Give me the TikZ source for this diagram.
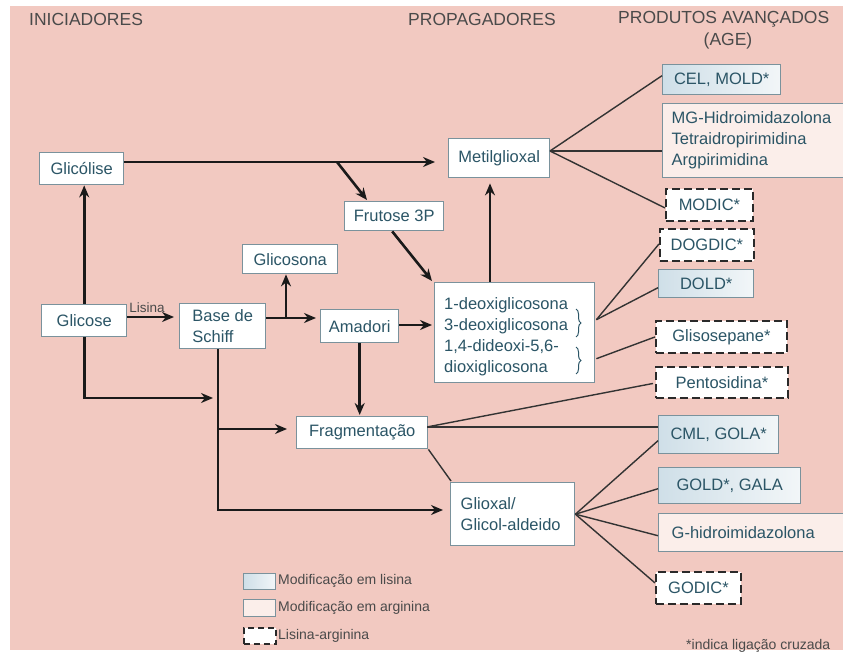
\documentclass[tikz,border=0pt]{standalone}
\usepackage{fontspec}
\setmainfont{Liberation Sans}
\usetikzlibrary{arrows.meta,calc,decorations.pathreplacing}
\definecolor{bgpink}{HTML}{F2C9C1}
\definecolor{txtc}{HTML}{2B5566}
\definecolor{hdrc}{HTML}{4A4A4A}
\definecolor{legc}{HTML}{4A4A4A}
\definecolor{bordc}{HTML}{7A929C}
\definecolor{lysA}{HTML}{CFDFE8}
\definecolor{lysB}{HTML}{F2F6F8}
\definecolor{argc}{HTML}{FBEEEA}
\definecolor{dashc}{HTML}{2A2A2A}
\definecolor{arrc}{HTML}{1A1A1A}
\definecolor{linec}{HTML}{333333}
\begin{document}
\begin{tikzpicture}[x=1pt,y=-1pt,
  box/.style={draw=bordc, line width=1.4pt, fill=white, text=txtc,
    font=\fontsize{16.5}{21}\selectfont, inner sep=0pt, anchor=north west},
  sz/.style 2 args={minimum width=#1pt, minimum height=#2pt},
  lys/.style={box, left color=lysA, right color=lysB, draw=bordc},
  arg/.style={box, fill=argc},
  dbox/.style={box, draw=dashc, dash pattern=on 8pt off 4pt, line width=1.9pt},
  txt/.style={text=txtc, font=\fontsize{16.5}{21}\selectfont, inner sep=0pt},
  arr/.style={line width=2.6pt, draw=arrc, line join=miter, -{Stealth[length=12pt,width=10pt]}},
  ln/.style={line width=1.4pt, draw=linec},
  hdr/.style={text=hdrc, font=\fontsize{17.5}{20}\selectfont, inner sep=0pt},
  leg/.style={text=legc, font=\fontsize{14}{16}\selectfont, inner sep=0pt, anchor=west},
]
\useasboundingbox (0,0) rectangle (843,652);
\fill[white] (0,0) rectangle (843,652);
\fill[bgpink] (10,6) rectangle (843,650);

% headers
\node[hdr, anchor=west] (h1) at (29,19) {INICIADORES};
\node[hdr, anchor=west] (h2) at (408,19) {PROPAGADORES};
\node[hdr, anchor=west] (h3) at (618,19) {PRODUTOS AVANÇADOS};
\node[hdr] (h4) at (728,41) {(AGE)};

% left / middle nodes
\node[box, sz={84}{32}] (glicolise) at (39,152) {Glicólise};
\node[box, sz={85}{32}] (glicose) at (41,304) {Glicose};
\node[box, sz={86}{45}, align=left] (schiff) at (179,303) {Base de\\Schiff};
\node[box, sz={95}{29}] (glicosona) at (242,244) {Glicosona};
\node[box, sz={78}{33}] (amadori) at (320,309) {Amadori};
\node[box, sz={99}{29}] (frutose) at (344,201) {Frutose 3P};
\node[box, sz={101}{39}] (metil) at (448,138) {Metilglioxal};
\node[box, sz={160}{100}] (deoxi) at (434,282) {};
\node[txt, anchor=north west, align=left] (deoxitxt) at (444,297)
  {1-deoxiglicosona\\3-deoxiglicosona\\1,4-dideoxi-5,6-\\dioxiglicosona};
\node[box, sz={131}{32}] (frag) at (296,416) {Fragmentação};
\node[box, sz={124}{63}, align=left, text width=104pt] (glioxal) at (450,482) {Glioxal/\\Glicol-aldeido};

% products
\node[lys, sz={118}{30}] (cel) at (662,64) {CEL, MOLD*};
\node[arg, sz={190}{74}, align=left, text width=172pt] (mg) at (662,103)
  {MG-Hidroimidazolona\\Tetraidropirimidina\\Argpirimidina};
\node[dbox, sz={87}{32}] (modic) at (665,188) {MODIC*};
\node[dbox, sz={94}{32}] (dogdic) at (659,228) {DOGDIC*};
\node[lys, sz={95}{28}] (dold) at (658,269) {DOLD*};
\node[dbox, sz={131}{32}] (glisos) at (655,320) {Glisosepane*};
\node[dbox, sz={132}{31}] (pento) at (655,366) {Pentosidina*};
\node[lys, sz={120}{38}] (cml) at (658,415) {CML, GOLA*};
\node[lys, sz={142}{36}] (gold) at (658,467) {GOLD*, GALA};
\node[arg, sz={200}{38}, align=left, text width=174pt] (ghidro) at (658,513) {G-hidroimidazolona};
\node[dbox, sz={85}{32}] (godic) at (655,571) {GODIC*};

% legend
\node[lys, sz={32}{16}] (lb1) at (243,573) {};
\node[arg, sz={32}{17}] (lb2) at (243,599) {};
\node[dbox, sz={32}{16}, line width=1.6pt, dash pattern=on 6pt off 4pt] (lb3) at (243,627) {};
\node[leg] (lt1) at (278,581) {Modificação em lisina};
\node[leg] (lt2) at (278,608) {Modificação em arginina};
\node[leg] (lt3) at (278,636) {Lisina-arginina};
\node[leg] (note) at (686,646) {*indica ligação cruzada};

% braces
\draw[decorate, decoration={brace, amplitude=5pt}, line width=1pt, txtc] (576,309) -- (576,337);
\draw[decorate, decoration={brace, amplitude=5pt}, line width=1pt, txtc] (576,347) -- (576,374);

% coordinates
\coordinate (hb) at (337,162);
\coordinate (lis) at (150,317);
\coordinate (sa) at (286,318);
\coordinate (ad) at (410,325);
\coordinate (dm) at (490,250);
\coordinate (g1) at (83,398);
\coordinate (sv) at (218,398);
\coordinate (sf) at (218,429);
\coordinate (sb) at (218,510);
\coordinate (mR) at (550,151);
\coordinate (fc) at (427,427);

% thick arrows
\draw[arr] (glicolise.east |- hb) -- ($(metil.west |- hb)+(-13,0)$);
\draw[arr] (hb) -- ($(frutose.north west)+(23,-1)$);
\draw[arr] ($(frutose.south)+(-2,0)$) -- ($(deoxi.north west)+(-2,-1)$);
\draw[arr] (glicose.north) -- (glicose.north |- glicolise.south);
\draw[arr] (glicose.east |- lis) -- ($(schiff.west |- lis)+(-5,0)$)
  node[pos=0.42, above=3pt, text=legc, font=\fontsize{13.5}{16}\selectfont, inner sep=0pt] (lisina) {Lisina};
\draw[arr] (schiff.east |- sa) -- ($(amadori.west |- sa)+(-4,0)$);
\draw[arr] (sa) -- (sa |- glicosona.south);
\draw[arr] (amadori.east |- ad) -- ($(deoxi.west |- ad)+(-2,0)$);
\draw[arr] (amadori.south) -- ($(amadori.south |- frag.north)+(0,-1)$);
\draw[arr] (deoxi.north -| dm) -- ($(metil.south -| dm)+(0,5)$);
\draw[arr] (glicose.south) -- (glicose.south |- g1) -- ($(sv)+(-5,0)$);
\draw[arr] (schiff.south -| sb) -- (sb) -- ($(glioxal.west |- sb)+(-7,0)$);
\draw[arr] (sf) -- ($(frag.west |- sf)+(-9,0)$);

% thin lines
\draw[ln] (mR) -- ($(cel.west)+(0,-4)$);
\draw[ln] (mR) -- (mg.west |- mR);
\draw[ln] (mR) -- ($(modic.west)+(0,3)$);
\draw[ln] ($(deoxi.east)+(1,-13)$) -- ($(dogdic.west)+(0,-1)$);
\draw[ln] ($(deoxi.east)+(1,-13)$) -- ($(dold.west)+(0,4)$);
\draw[ln] ($(deoxi.east)+(1,26)$) -- ($(glisos.west)+(0,0)$);
\draw[ln] ($(frag.east)+(0,-6)$) -- ($(pento.west)+(-2,1)$);
\draw[ln] (fc) -- (cml.west |- fc);
\draw[ln] (frag.south east) -- ($(glioxal.north west)+(1,-1)$);
\draw[ln] (glioxal.east) -- ($(cml.west)+(0,6)$);
\draw[ln] (glioxal.east) -- ($(gold.west)+(0,3)$);
\draw[ln] (glioxal.east) -- ($(ghidro.west)+(0,3)$);
\draw[ln] (glioxal.east) -- ($(godic.west)+(0,-5)$);
\end{tikzpicture}
\end{document}
